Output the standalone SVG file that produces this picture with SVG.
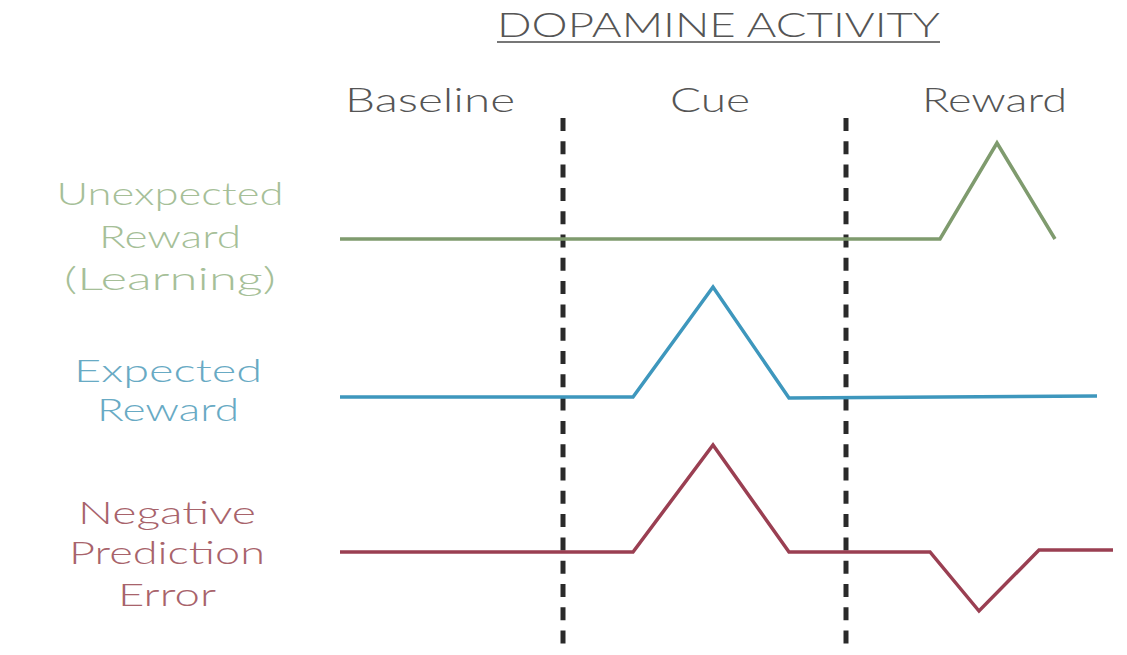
<svg xmlns="http://www.w3.org/2000/svg" width="1127" height="655" viewBox="0 0 1127 655">
<style>
text{font-family:Lato,"Open Sans","DejaVu Sans",sans-serif;font-weight:300;}
.hd{font-size:33px;fill:#555555;}
.lab{font-size:31px;text-anchor:middle;}
.g{fill:#a6bf98;}
.b{fill:#68aac4;}
.r{fill:#a8636b;}
.sep{stroke:#2a2a2a;stroke-width:5;stroke-dasharray:13 10.3;fill:none;}
.trace{fill:none;stroke-width:3.5;stroke-linejoin:miter;}
</style>
<rect width="1127" height="655" fill="#ffffff"/>
<g id="title">
<text x="497" y="37" class="hd" font-size="31" textLength="443" lengthAdjust="spacingAndGlyphs">DOPAMINE ACTIVITY</text>
<line x1="497" y1="42" x2="940" y2="42" stroke="#777777" stroke-width="2"/>
</g>
<g id="phase-labels">
<text x="345" y="112" class="hd" textLength="170" lengthAdjust="spacingAndGlyphs">Baseline</text>
<text x="670" y="112" class="hd" textLength="80" lengthAdjust="spacingAndGlyphs">Cue</text>
<text x="922" y="112" class="hd" textLength="145" lengthAdjust="spacingAndGlyphs">Reward</text>
</g>
<g id="row-labels">
<g id="label-unexpected">
<text x="170" y="205" class="lab g" textLength="227" lengthAdjust="spacingAndGlyphs">Unexpected</text>
<text x="170" y="248" class="lab g" textLength="142" lengthAdjust="spacingAndGlyphs">Reward</text>
<text x="170" y="290" class="lab g" textLength="212" lengthAdjust="spacingAndGlyphs">(Learning)</text>
</g>
<g id="label-expected">
<text x="168" y="382" class="lab b" textLength="188" lengthAdjust="spacingAndGlyphs">Expected</text>
<text x="168" y="421" class="lab b" textLength="142" lengthAdjust="spacingAndGlyphs">Reward</text>
</g>
<g id="label-negative">
<text x="167" y="524" class="lab r" textLength="178" lengthAdjust="spacingAndGlyphs">Negative</text>
<text x="167" y="564" class="lab r" textLength="196" lengthAdjust="spacingAndGlyphs">Prediction</text>
<text x="167" y="606" class="lab r" textLength="98" lengthAdjust="spacingAndGlyphs">Error</text>
</g>
</g>
<g id="connectors">
<line class="sep" x1="563" y1="118" x2="563" y2="648"/>
<line class="sep" x1="846" y1="118" x2="846" y2="648"/>
<polyline id="trace-unexpected" class="trace" stroke="#7f9b6e" points="340,239 940,239 997,143 1055,239"/>
<polyline id="trace-expected" class="trace" stroke="#3e97bd" points="340,397 633,397 713,287 789,398 1097,396"/>
<polyline id="trace-negative" class="trace" stroke="#9a3f52" points="340,552 633,552 713,445 789,552 930,552 979,611 1039,550 1113,550"/>
</g>
</svg>
